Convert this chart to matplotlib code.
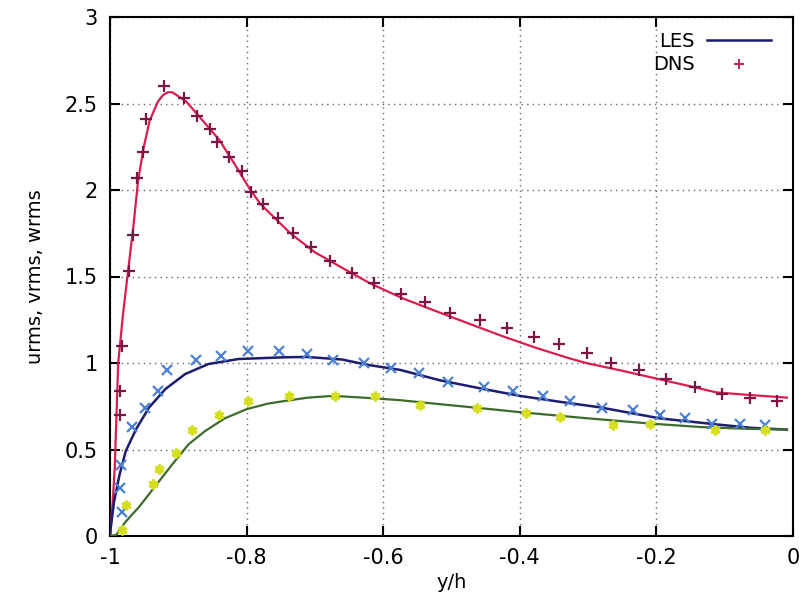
import matplotlib
matplotlib.use("Agg")
import matplotlib.pyplot as plt
from matplotlib.lines import Line2D

# ---- DNS data (markers) ----
dns_u_x = [-0.986, -0.985, -0.982, -0.972, -0.966, -0.961, -0.951, -0.947, -0.921, -0.891,
           -0.872, -0.853, -0.843, -0.826, -0.807, -0.793, -0.776, -0.754, -0.732, -0.706,
           -0.678, -0.646, -0.614, -0.574, -0.539, -0.502, -0.459, -0.419, -0.379, -0.343,
           -0.301, -0.266, -0.225, -0.186, -0.143, -0.104, -0.063, -0.023]
dns_u_y = [0.70, 0.84, 1.10, 1.53, 1.74, 2.07, 2.22, 2.41, 2.60, 2.53,
           2.43, 2.35, 2.28, 2.19, 2.11, 1.99, 1.92, 1.84, 1.75, 1.67,
           1.59, 1.52, 1.46, 1.40, 1.35, 1.29, 1.25, 1.20, 1.15, 1.11,
           1.06, 1.00, 0.96, 0.91, 0.86, 0.82, 0.80, 0.78]

dns_w_x = [-0.983, -0.985, -0.984, -0.968, -0.949, -0.929, -0.916, -0.874, -0.838, -0.798,
           -0.752, -0.712, -0.673, -0.628, -0.588, -0.548, -0.505, -0.453, -0.410, -0.366,
           -0.326, -0.280, -0.234, -0.195, -0.158, -0.119, -0.078, -0.041]
dns_w_y = [0.14, 0.28, 0.41, 0.63, 0.74, 0.84, 0.96, 1.02, 1.04, 1.07,
           1.07, 1.05, 1.02, 1.00, 0.97, 0.945, 0.89, 0.86, 0.84, 0.81,
           0.78, 0.74, 0.73, 0.70, 0.68, 0.65, 0.65, 0.64]

dns_v_x = [-0.983, -0.976, -0.937, -0.928, -0.903, -0.880, -0.841, -0.798, -0.738, -0.671,
           -0.612, -0.546, -0.462, -0.391, -0.341, -0.263, -0.209, -0.114, -0.041]
dns_v_y = [0.035, 0.18, 0.30, 0.39, 0.48, 0.61, 0.70, 0.78, 0.81, 0.81,
           0.81, 0.76, 0.74, 0.71, 0.69, 0.64, 0.65, 0.61, 0.61]

# ---- LES data (lines) ----
les_u_x = [-1.0, -0.996, -0.993, -0.988, -0.981, -0.973, -0.966, -0.959, -0.951, -0.942,
           -0.930, -0.922, -0.915, -0.909, -0.903, -0.888, -0.864, -0.840, -0.816, -0.796,
           -0.780, -0.736, -0.700, -0.660, -0.619, -0.571, -0.523, -0.474, -0.426, -0.378,
           -0.330, -0.303, -0.250, -0.200, -0.150, -0.112, -0.063, -0.009]
les_u_y = [0.0, 0.20, 0.40, 1.00, 1.28, 1.55, 1.78, 2.05, 2.24, 2.40,
           2.51, 2.55, 2.565, 2.565, 2.55, 2.51, 2.40, 2.29, 2.14, 2.01,
           1.92, 1.75, 1.64, 1.55, 1.46, 1.373, 1.30, 1.227, 1.156, 1.09,
           1.03, 1.00, 0.955, 0.91, 0.865, 0.83, 0.815, 0.80]

les_w_x = [-1.0, -0.999, -0.994, -0.986, -0.977, -0.962, -0.943, -0.919, -0.890, -0.856,
           -0.812, -0.745, -0.712, -0.660, -0.624, -0.575, -0.517, -0.460, -0.400, -0.340,
           -0.283, -0.195, -0.112, -0.060, -0.009]
les_w_y = [0.0, 0.044, 0.20, 0.355, 0.49, 0.616, 0.742, 0.849, 0.936, 0.994,
           1.023, 1.033, 1.035, 1.02, 0.99, 0.96, 0.90, 0.855, 0.81, 0.775,
           0.744, 0.68, 0.645, 0.625, 0.615]

les_v_x = [-1.0, -0.991, -0.977, -0.957, -0.936, -0.909, -0.885, -0.861, -0.832, -0.800,
           -0.769, -0.745, -0.710, -0.673, -0.630, -0.575, -0.517, -0.460, -0.400, -0.300,
           -0.209, -0.136, -0.070, -0.009]
les_v_y = [0.0, 0.006, 0.083, 0.17, 0.277, 0.413, 0.53, 0.606, 0.68, 0.733,
           0.765, 0.78, 0.80, 0.81, 0.80, 0.785, 0.762, 0.74, 0.716, 0.68,
           0.65, 0.63, 0.62, 0.615]

xticks = [-1, -0.8, -0.6, -0.4, -0.2, 0]
xticklabels = ["-1", "-0.8", "-0.6", "-0.4", "-0.2", "0"]
yticks = [0, 0.5, 1, 1.5, 2, 2.5, 3]
yticklabels = ["0", "0.5", "1", "1.5", "2", "2.5", "3"]

c_u_line = "#d91e4e"
c_u_pt = "#7d1545"
c_w_line = "#1c1c70"
c_w_pt = "#4d80d4"
c_v_line = "#3d6b2c"
c_v_pt = "#d6df1e"

plt.rcParams["font.family"] = ["DejaVu Sans"]
fig = plt.figure(figsize=(8.03, 6.14), dpi=100)
ax = fig.add_axes([110 / 803, 1 - 536 / 614, 683 / 803, 519 / 614])

ax.plot(les_u_x, les_u_y, color=c_u_line, lw=1.6, zorder=3)
ax.plot(les_w_x, les_w_y, color=c_w_line, lw=1.8, zorder=3)
ax.plot(les_v_x, les_v_y, color=c_v_line, lw=1.6, zorder=3)

ax.plot(dns_u_x, dns_u_y, ls="none", marker="+", ms=9, mew=1.6, color=c_u_pt, zorder=4)
ax.plot(dns_w_x, dns_w_y, ls="none", marker="x", ms=7, mew=1.6, color=c_w_pt, zorder=4)
ax.plot(dns_v_x, dns_v_y, ls="none", marker=(6, 2, 0), ms=7, mew=2.2, color=c_v_pt, zorder=4)

ax.set_xlim(-1, 0)
ax.set_ylim(0, 3)
ax.set_xticks(xticks)
ax.set_xticklabels(xticklabels)
ax.set_yticks(yticks)
ax.set_yticklabels(yticklabels)
ax.tick_params(direction="in", length=7, width=1.5, top=True, right=True,
               labelsize=15, pad=9)
for s in ax.spines.values():
    s.set_linewidth(1.5)
ax.grid(True, ls=(0, (1, 3)), color="#666677", lw=1.0)

ax.set_xlabel("y/h", fontsize=14, labelpad=3)
ax.set_ylabel("urms, vrms, wrms", fontsize=14, labelpad=14)

handles = [Line2D([], [], color=c_w_line, lw=1.8),
           Line2D([], [], ls="none", marker="+", ms=7, mew=1.4, color="#c0245a")]
ax.legend(handles, ["LES", "DNS"], loc="upper right", frameon=False,
          markerfirst=False, fontsize=14, handlelength=3.3, handletextpad=0.6,
          labelspacing=0.25, borderaxespad=0.0, bbox_to_anchor=(0.979, 0.987))

fig.savefig("out.png", dpi=100)
